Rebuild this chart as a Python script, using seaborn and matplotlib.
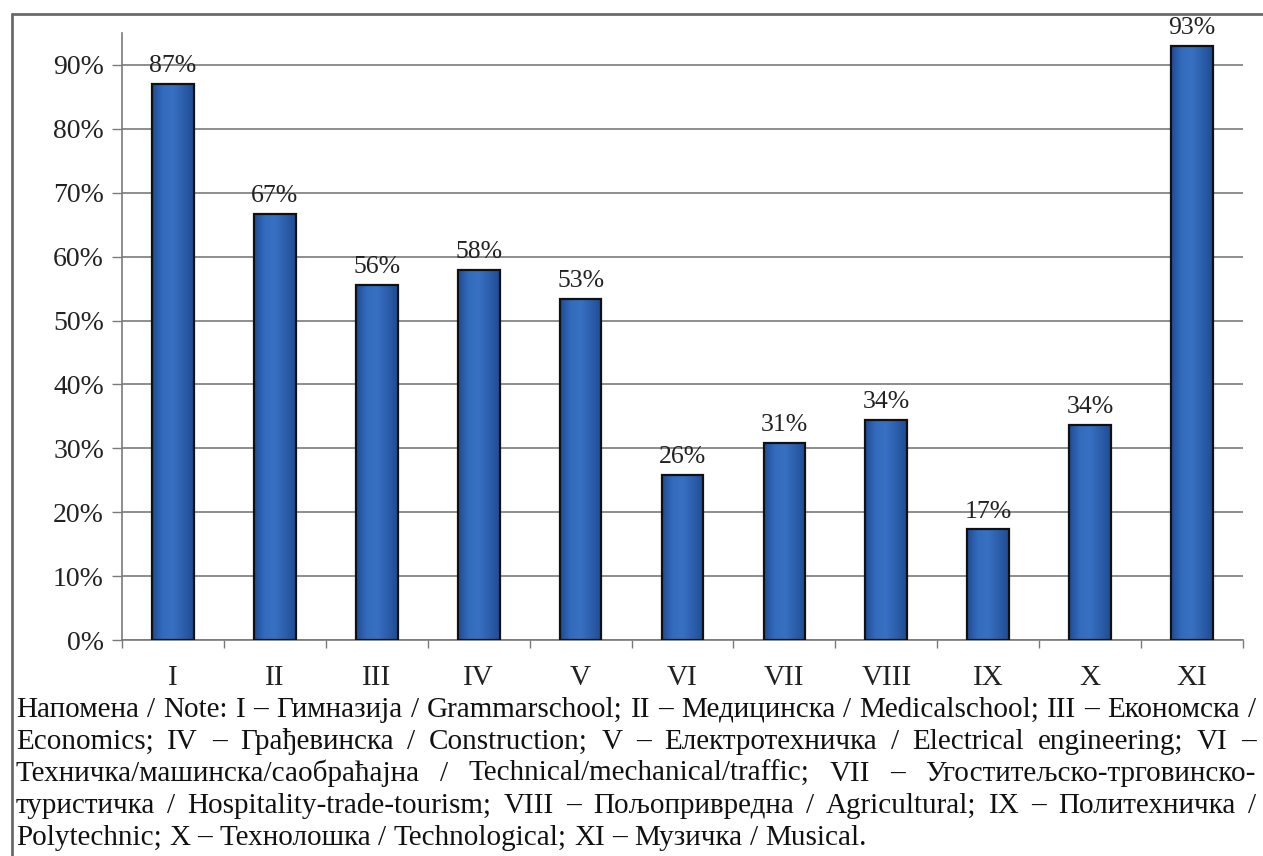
#!/usr/bin/env python3
"""Share of students per school type - bar chart with bilingual note."""

import matplotlib

matplotlib.use("Agg")
import matplotlib.pyplot as plt
import numpy as np
import pandas as pd
import seaborn as sns
from matplotlib.colors import LinearSegmentedColormap
from matplotlib.lines import Line2D
from matplotlib.ticker import FixedLocator, FuncFormatter

categories = ["I", "II", "III", "IV", "V", "VI", "VII", "VIII", "IX", "X", "XI"]
shares = [87.0, 66.7, 55.6, 57.9, 53.4, 25.9, 30.8, 34.4, 17.3, 33.7, 92.9]
y_ticks = [0, 10, 20, 30, 40, 50, 60, 70, 80, 90]

note_lines = [
    "Напомена / Note: I – Гимназија / Grammarschool; II – Медицинска / Medicalschool; III – Економска /",
    "Economics; IV – Грађевинска / Construction; V – Електротехничка / Electrical engineering; VI –",
    "Техничка/машинска/саобраћајна / Technical/mechanical/traffic; VII – Угоститељско-трговинско-",
    "туристичка / Hospitality-trade-tourism; VIII – Пољопривредна / Agricultural; IX – Политехничка /",
    "Polytechnic; X – Технолошка / Technological; XI – Музичка / Musical.",
]

W, H, DPI = 1263, 856, 100
SERIF = ["Liberation Serif", "DejaVu Serif"]


def px(x, y):
    return x / W, 1 - y / H


def main() -> None:
    sns.set_theme(style="white")
    plt.rcParams["font.family"] = SERIF

    df = pd.DataFrame({"cat": categories, "share": shares})

    fig = plt.figure(figsize=(W / DPI, H / DPI), dpi=DPI)
    ax = fig.add_axes([122 / W, 1 - 640 / H, (1243 - 122) / W, (640 - 33) / H])

    sns.barplot(data=df, x="cat", y="share", color="#2a5ca8", width=0.41,
                edgecolor="#111111", linewidth=1.6, ax=ax, zorder=3)

    ax.set_xlim(-0.5, len(categories) - 0.5)
    ax.set_ylim(0, 95)

    # gradient fill clipped to each bar
    cmap = LinearSegmentedColormap.from_list(
        "bar", ["#204c94", "#336bbd", "#3870c2", "#2c5fac", "#204c94"])
    grad = np.linspace(0, 1, 64).reshape(1, -1)
    for patch in ax.patches:
        x0, w, h = patch.get_x(), patch.get_width(), patch.get_height()
        im = ax.imshow(grad, extent=[x0, x0 + w, 0, h], aspect="auto",
                       cmap=cmap, zorder=2.5, interpolation="bicubic")
        im.set_clip_path(patch)
        patch.set_facecolor("none")
    ax.set_xlim(-0.5, len(categories) - 0.5)
    ax.set_ylim(0, 95)

    for container in ax.containers:
        ax.bar_label(container, labels=[f"{round(v)}%" for v in shares],
                     padding=5, fontsize=18.5, color="#222222")

    ax.yaxis.set_major_locator(FixedLocator(y_ticks))
    ax.yaxis.set_major_formatter(FuncFormatter(lambda v, _: f"{v:.0f}%"))
    ax.grid(axis="y", color="#7a7a7a", linewidth=1.2, zorder=0)
    ax.set_axisbelow(True)
    ax.tick_params(axis="y", left=True, length=7, width=1, color="#7a7a7a",
                   labelsize=20, labelcolor="#222222", pad=6)

    ax.set_xticks(np.arange(len(categories) + 1) - 0.5, minor=True)
    ax.tick_params(axis="x", which="major", length=0, labelsize=21,
                   labelcolor="#222222", pad=18)
    ax.tick_params(axis="x", which="minor", bottom=True, length=6, width=1,
                   color="#7a7a7a")
    ax.set_xlabel("")
    ax.set_ylabel("")

    for side in ("top", "right"):
        ax.spines[side].set_visible(False)
    for side in ("left", "bottom"):
        ax.spines[side].set_color("#7a7a7a")
        ax.spines[side].set_linewidth(1.2)

    # outer frame (top and left edges visible)
    fx, fy = px(12, 14)
    fig.add_artist(Line2D([fx, 1.0], [fy, fy], color="#6a6a6a", lw=2,
                          transform=fig.transFigure))
    fig.add_artist(Line2D([fx, fx], [fy, 0.0], color="#6a6a6a", lw=2,
                          transform=fig.transFigure))

    # justified note text, largest size that fits every line
    renderer = fig.canvas.get_renderer()
    left, right = 16, 1256
    avail = right - left
    fs = 22.0
    while fs > 10:
        widest = 0
        for line in note_lines:
            t = fig.text(0, 0, line, fontsize=fs)
            widest = max(widest, t.get_window_extent(renderer).width)
            t.remove()
        if widest <= avail:
            break
        fs -= 0.25
    space = 0.25 * fs * DPI / 72

    baselines = [717, 749, 781, 813, 845]
    for i, line in enumerate(note_lines):
        words = line.split()
        objs = [fig.text(0, px(0, baselines[i])[1], wd, fontsize=fs,
                         color="#111111", va="baseline") for wd in words]
        widths = [o.get_window_extent(renderer).width for o in objs]
        last = i == len(note_lines) - 1
        gap = space if last else (avail - sum(widths)) / (len(words) - 1)
        x = left
        for o, wd in zip(objs, widths):
            o.set_x(x / W)
            x += wd + gap

    fig.savefig("out.png", dpi=DPI)
    plt.close(fig)


if __name__ == "__main__":
    main()
